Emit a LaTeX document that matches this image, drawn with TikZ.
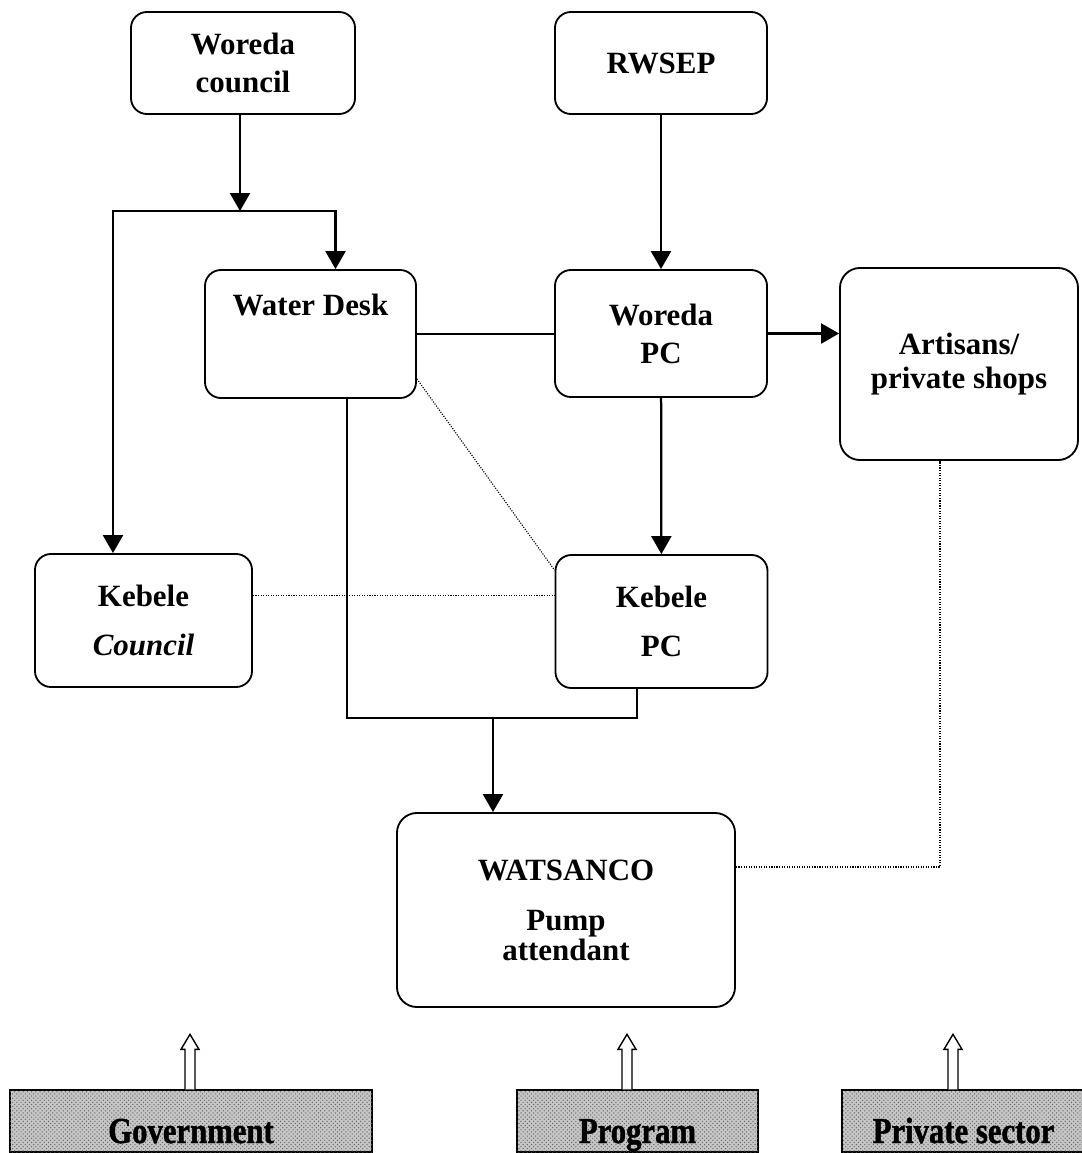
\documentclass[tikz,border=0pt]{standalone}
\usepackage{fontspec}
\setmainfont{Liberation Serif}
\newfontfamily\tagfont{Liberation Serif}[FakeStretch=0.84, FakeBold=1.2]
\usetikzlibrary{arrows.meta,positioning,patterns}

\begin{document}
\begin{tikzpicture}[
  x=0.025cm, y=-0.025cm,
  box/.style={draw, line width=1.3pt, rounded corners=0.4cm, align=center,
              inner sep=0pt, font=\fontsize{22}{27}\selectfont\bfseries},
  arrow/.style={-{Triangle[length=0.45cm, width=0.5cm]}, line width=1.6pt},
  link/.style={line width=1.6pt},
  dots/.style={densely dotted, line width=0.8pt},
  base/.style={draw, line width=1pt, fill=gray!45,
               postaction={pattern=crosshatch dots, pattern color=gray!80!black},
               inner sep=0pt, minimum height=1.55cm,
               text height=1.325cm, text depth=0.225cm,
               font=\fontsize{26}{26}\selectfont\tagfont\bfseries},
  hollow/.pic={\draw[line width=1pt, fill=white]
               (-5,0) -- (-5,-40) -- (-9,-40) -- (0,-55) -- (9,-40) -- (5,-40) -- (5,0);}
]
\useasboundingbox (0,0) rectangle (1081,1153);

%% Top row
\node[box, minimum width=5.6cm, minimum height=2.55cm] (wcouncil) at (243,63) {Woreda\\council};
\node[box, minimum width=5.3cm, minimum height=2.55cm] (rwsep)    at (661,63) {RWSEP};

%% Woreda level
\node[box, minimum width=5.275cm, text height=1.125cm, text depth=2.075cm] (desk) at (310.5,334) {Water Desk};
\node[box, minimum width=5.3cm, minimum height=3.175cm] (wpc) at (661,333.5) {Woreda\\PC};
\node[box, minimum width=5.95cm, minimum height=4.8cm, rounded corners=0.5cm] (shops) at (959,364)
  {Artisans/\\[-0.1cm]private shops};

%% Kebele level
\node[box, minimum width=5.425cm, minimum height=3.325cm] (kcouncil) at (143.5,620.5) {Kebele\\[0.275cm]\textit{Council}};
\node[box, minimum width=5.3cm, minimum height=3.325cm]   (kpc)      at (661.5,621.5) {Kebele\\[0.275cm]PC};

%% Community level
\node[box, minimum width=8.45cm, minimum height=4.85cm, rounded corners=0.5cm] (wats) at (566,910)
  {WATSANCO\\[0.3cm]Pump\\[-0.2cm]attendant};

%% Sectors
\node[base, minimum width=9.05cm]  (gov)  at (191,1121)   {Government};
\node[base, minimum width=6.025cm] (prog) at (637.5,1121) {Program};
\node[base, minimum width=6.075cm] (priv) at (963.5,1121) {Private sector};

%% Arrows
\coordinate (split) at (240,211);
\coordinate (merge) at (493,718);
\draw[arrow] (wcouncil.south -| split) -- (split);
\draw[arrow] (split) -| ([xshift=0.625cm]desk.north);
\draw[arrow] (split) -| ([xshift=-0.7625cm]kcouncil.north);
\draw[arrow] (rwsep) -- (wpc);
\draw[link]  (desk.east) -- (desk.east -| wpc.west);
\draw[arrow] (wpc.east) -- (wpc.east -| shops.west);
\draw[arrow] (wpc) -- (kpc);
\draw[link]  ([xshift=0.9125cm]desk.south) |- (merge) -| ([xshift=-0.6125cm]kpc.south);
\draw[arrow] (merge) -- (merge |- wats.north);

%% Dotted links
\draw[dots] ([yshift=0.5cm]desk.south east) -- ([yshift=-0.4cm]kpc.north west);
\draw[dots] ([yshift=0.625cm]kcouncil.east) -- ([yshift=0.625cm]kcouncil.east -| kpc.west);
\draw[dots] ([yshift=1.075cm]wats.east) -| ([xshift=-0.475cm]shops.south);

%% Sector arrows
\pic at ([xshift=-0.025cm]gov.north)   {hollow};
\pic at ([xshift=-0.2625cm]prog.north) {hollow};
\pic at ([xshift=-0.2625cm]priv.north) {hollow};

\end{tikzpicture}
\end{document}
